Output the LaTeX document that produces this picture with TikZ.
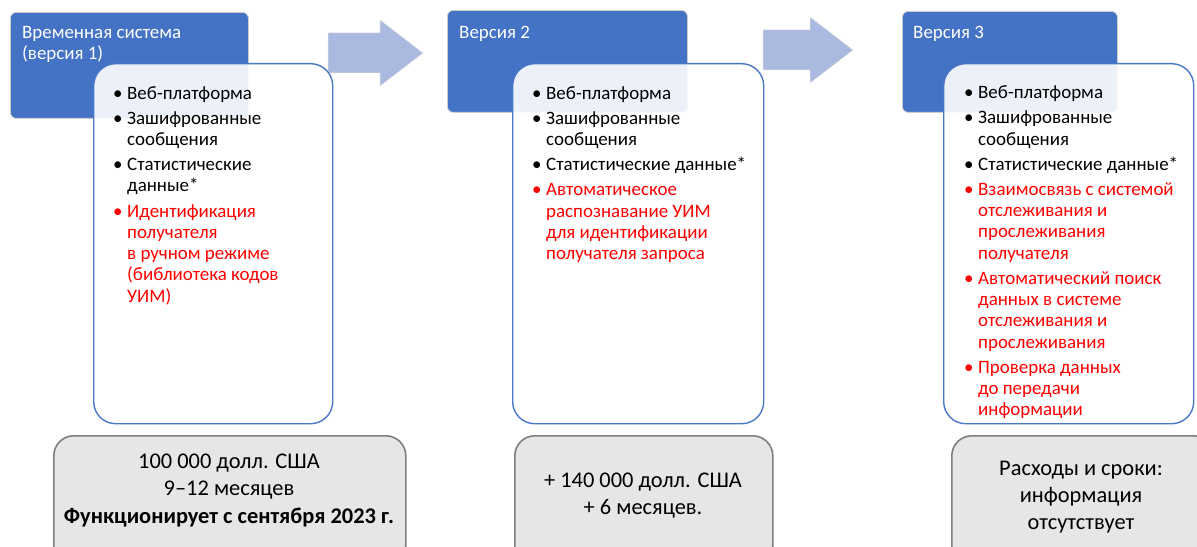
\documentclass[tikz,border=0pt]{standalone}
\usepackage{fontspec}
\setmainfont{Carlito}
\definecolor{hdrblue}{HTML}{4472C4}
\definecolor{boxblue}{HTML}{4A78C8}
\definecolor{gfill}{HTML}{E6E6E6}
\definecolor{gbord}{HTML}{7F7F7F}
\definecolor{arrfill}{HTML}{AAB9DF}
\definecolor{txtred}{HTML}{FF0000}
\newcommand\lbul{\makebox[14bp][l]{•}}
\newcommand\lind{\hspace*{14bp}}
\begin{document}
\begin{tikzpicture}[x=1bp,y=-1bp,
  hdr/.style={draw=black!20, line width=0.8bp, fill=hdrblue, rounded corners=6bp, inner sep=0pt, anchor=north west},
  wbox/.style={draw=boxblue, line width=1.4bp, fill=white, fill opacity=0.9, draw opacity=1, rounded corners=22bp, inner sep=0pt, anchor=north west},
  gbox/.style={draw=gbord, line width=1.6bp, fill=gfill, rounded corners=20bp, inner sep=0pt, anchor=north west},
  blockarrow/.style={fill=arrfill, draw=black!12, line width=0.5bp},
  hdrtxt/.style={text=white, inner sep=0pt, anchor=north west, align=left, font=\fontsize{19}{21}\selectfont},
  listtxt/.style={inner sep=0pt, anchor=north west, align=left, font=\fontsize{19}{21.3}\selectfont},
  gtxt/.style={inner sep=0pt, anchor=north, align=center, font=\fontsize{22.5}{27.3}\selectfont},
]
\useasboundingbox (0,0) rectangle (1197,547);

% block arrows
\path[blockarrow] (328,33) -- (380,33) -- (380,20) -- (423,53) -- (380,86) -- (380,73) -- (328,73) -- cycle;
\path[blockarrow] (763,30) -- (810,30) -- (810,17) -- (853,50) -- (810,83) -- (810,70) -- (763,70) -- cycle;

% headers
\node[hdr, minimum width=238bp, minimum height=106bp] (h1) at (10,12) {};
\node[hdr, minimum width=240bp, minimum height=102bp] (h2) at (447,10) {};
\node[hdr, minimum width=215bp, minimum height=101bp] (h3) at (902,11) {};

% white boxes
\node[wbox, minimum width=239bp, minimum height=360bp] (w1) at (93,63) {};
\node[wbox, minimum width=251bp, minimum height=360bp] (w2) at (512,63) {};
\node[wbox, minimum width=250bp, minimum height=360bp] (w3) at (943,63) {};

% grey boxes
\node[gbox, minimum width=352bp, minimum height=130bp] (g1) at (53,435) {};
\node[gbox, minimum width=258bp, minimum height=130bp] (g2) at (514,435) {};
\node[gbox, minimum width=262bp, minimum height=130bp] (g3) at (951,435) {};

% header texts
\node[hdrtxt] (h1t) at (22,26) {Временная система\\(версия 1)};
\node[hdrtxt] (h2t) at (459,26) {Версия 2};
\node[hdrtxt] (h3t) at (913,26) {Версия 3};

% lists
\node[listtxt] (l1) at (113,86) {\lbul Веб-платформа\\[4bp]
\lbul Зашифрованные\\ \lind сообщения\\[4bp]
\lbul Статистические\\ \lind данные*\\[4bp]
\color{txtred}\lbul Идентификация\\ \color{txtred}\lind получателя\\ \color{txtred}\lind в ручном режиме\\ \color{txtred}\lind (библиотека кодов\\ \color{txtred}\lind УИМ)};

\node[listtxt] (l2) at (532,86) {\lbul Веб-платформа\\[4bp]
\lbul Зашифрованные\\ \lind сообщения\\[4bp]
\lbul Статистические данные*\\[4bp]
\color{txtred}\lbul Автоматическое\\ \color{txtred}\lind распознавание УИМ\\ \color{txtred}\lind для идентификации\\ \color{txtred}\lind получателя запроса};

\node[listtxt] (l3) at (964,85.5) {\lbul Веб-платформа\\[4bp]
\lbul Зашифрованные\\ \lind сообщения\\[4bp]
\lbul Статистические данные*\\[4bp]
\color{txtred}\lbul Взаимосвязь с системой\\ \color{txtred}\lind отслеживания и\\ \color{txtred}\lind прослеживания\\ \color{txtred}\lind получателя\\[4bp]
\color{txtred}\lbul Автоматический поиск\\ \color{txtred}\lind данных в системе\\ \color{txtred}\lind отслеживания и\\ \color{txtred}\lind прослеживания\\[4bp]
\color{txtred}\lbul Проверка данных\\ \color{txtred}\lind до передачи\\ \color{txtred}\lind информации};

% grey box texts
\node[gtxt] (g1t) at (229,454) {100 000 долл. США\\9–12 месяцев\\\bfseries Функционирует с сентября 2023 г.};
\node[gtxt] (g2t) at (643,473) {+ 140 000 долл. США\\+ 6 месяцев.};
\node[gtxt] (g3t) at (1081,460.5) {Расходы и сроки:\\информация\\отсутствует};
\end{tikzpicture}
\end{document}
